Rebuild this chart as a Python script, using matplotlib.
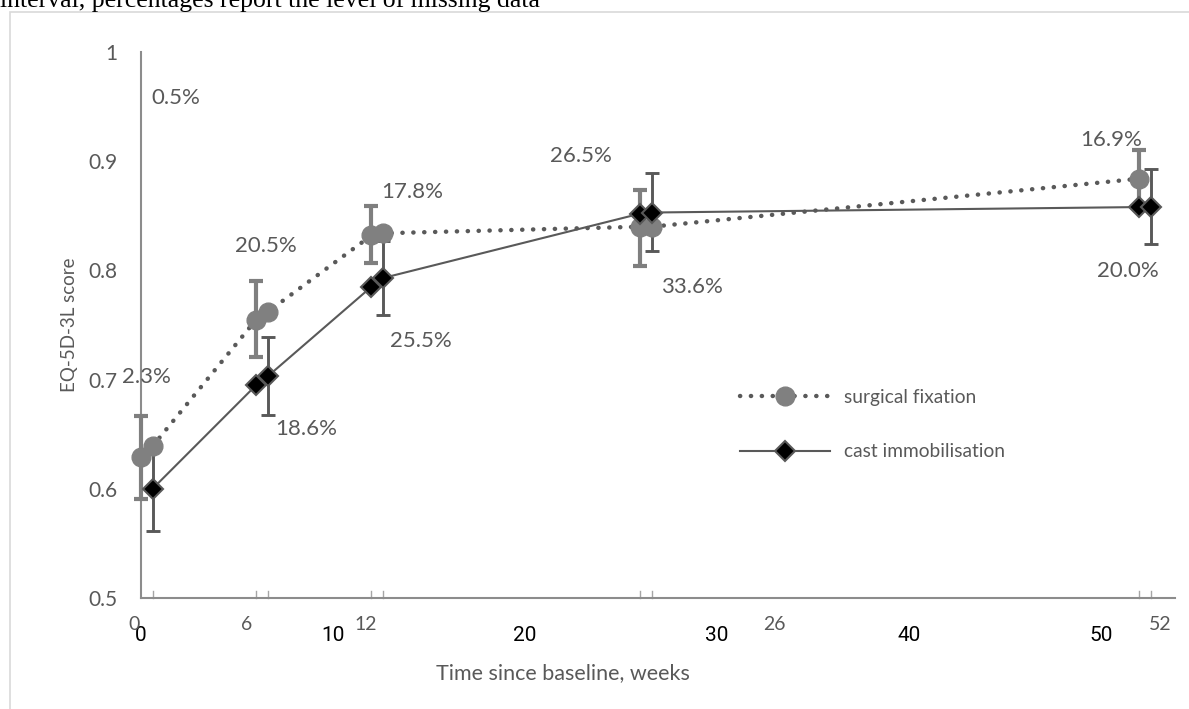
import numpy as np
import matplotlib
matplotlib.use("Agg")
import matplotlib.pyplot as plt
from matplotlib.patches import Rectangle
from matplotlib.lines import Line2D

# ---------------- data ----------------
weeks = [0, 6, 12, 26, 52]
offset = 0.6  # second (shifted) copy of each series

surg_a = [0.629, 0.755, 0.832, 0.840, 0.884]
surg_b = [0.639, 0.762, 0.834, 0.840, np.nan]
surg_lo = [0.591, 0.721, 0.807, 0.804, 0.858]
surg_hi = [0.667, 0.790, 0.859, 0.874, 0.910]

cast_a = [np.nan, 0.695, 0.785, 0.852, 0.858]
cast_b = [0.600, 0.703, 0.793, 0.853, 0.858]
cast_lo = [0.561, 0.668, 0.759, 0.818, 0.824]
cast_hi = [0.639, 0.739, 0.827, 0.889, 0.893]

missing_labels = ["0.5%", "2.3%", "20.5%", "18.6%", "17.8%", "25.5%",
                  "26.5%", "33.6%", "16.9%", "20.0%"]
missing_xy = [(1.8, 0.958), (0.3, 0.702), (6.5, 0.822), (8.6, 0.655),
              (14.1, 0.872), (14.6, 0.735), (22.9, 0.905), (28.7, 0.785),
              (50.5, 0.919), (51.4, 0.799)]

cat_labels = ["0", "6", "12", "26", "52"]
cat_label_x = [-0.35, 5.5, 11.7, 33.0, 53.1]

y_ticks = [0.5, 0.6, 0.7, 0.8, 0.9, 1.0]
y_ticklabels = ["0.5", "0.6", "0.7", "0.8", "0.9", "1"]
x_ticks = [0, 10, 20, 30, 40, 50]

# ---------------- figure ----------------
W, H = 1189, 709
fig = plt.figure(figsize=(W / 100, H / 100), dpi=100)
FONT = ["Lato", "DejaVu Sans"]
NARROW = ["Liberation Sans Narrow", "DejaVu Sans Condensed", "Roboto", "DejaVu Sans"]
TXT = "#595959"

# chart area border and clipped caption above
fig.patches.append(Rectangle((10 / W, -0.05), 1.2, 1 - 12 / H + 0.05,
                             transform=fig.transFigure, fill=False,
                             edgecolor="#d9d9d9", lw=1.2))
fig.text(0.0, 1 - 7 / H, "interval, percentages report the level of missing data",
         family=["Liberation Serif", "DejaVu Serif"], fontsize=18.5,
         va="baseline", ha="left", color="black")

ax = fig.add_axes([141 / W, (H - 598) / H, (1175 - 141) / W, (598 - 52) / H])
ax.set_xlim(0, 53.85)
ax.set_ylim(0.5, 1.0)
for s in ["top", "right"]:
    ax.spines[s].set_visible(False)
for s in ["left", "bottom"]:
    ax.spines[s].set_color("#8c8c8c")
    ax.spines[s].set_linewidth(1.5)

xa = np.array(weeks, dtype=float)
xb = xa + offset


def interleave(a, b):
    out = []
    for u, v in zip(a, b):
        out += [u, v]
    return np.array(out, dtype=float)


sx = interleave(xa, xb)
sy = interleave(surg_a, surg_b)
cx = interleave(xa, xb)
cy = interleave(cast_a, cast_b)
ms_ = ~np.isnan(sy)
mc_ = ~np.isnan(cy)

DOT = (0, (0.05, 2.4))
# lines
ax.plot(sx[ms_][1:], sy[ms_][1:], color="#595959", lw=3.2, linestyle=DOT,
        dash_capstyle="round", zorder=2)
ax.plot(cx[mc_], cy[mc_], color="#595959", lw=1.5, zorder=2)

# error bars
sa = np.array(surg_a)
cb = np.array(cast_b)
ax.errorbar(xa, sa, yerr=[sa - np.array(surg_lo), np.array(surg_hi) - sa],
            fmt="none", ecolor="#7f7f7f", elinewidth=3.0, capsize=4.7,
            capthick=3.0, zorder=3, clip_on=False)
ax.errorbar(xb, cb, yerr=[cb - np.array(cast_lo), np.array(cast_hi) - cb],
            fmt="none", ecolor="#595959", elinewidth=2.1, capsize=5,
            capthick=2.1, zorder=3, clip_on=False)

# markers
ax.plot(xa, surg_a, "o", ms=13.5, color="#808080", mec="#808080", zorder=4, clip_on=False)
ax.plot(xb, surg_b, "o", ms=13.5, color="#808080", mec="#808080", zorder=4, clip_on=False)
ax.plot(xa, cast_a, "D", ms=10, color="black", mec="#595959", mew=1.5, zorder=5, clip_on=False)
ax.plot(xb, cast_b, "D", ms=10, color="black", mec="#595959", mew=1.5, zorder=5, clip_on=False)

# small tick marks at the category positions
for xv in list(xa[1:]) + list(xb):
    ax.plot([xv, xv], [0.5, 0.506], color="#a6a6a6", lw=1, zorder=1, clip_on=False)

# axis ticks
ax.set_yticks(y_ticks)
ax.set_yticklabels(y_ticklabels)
ax.tick_params(axis="y", length=0, pad=17, labelsize=15, labelcolor=TXT)
for lab in ax.get_yticklabels():
    lab.set_family(FONT)
ax.set_xticks(x_ticks)
ax.set_xticklabels([str(v) for v in x_ticks], family=NARROW, stretch="condensed")
ax.tick_params(axis="x", length=0, pad=20, labelsize=15, labelcolor="black")

for lab, xv in zip(cat_labels, cat_label_x):
    ax.text(xv, 0.5 - 27 / 1096, lab, ha="center", va="center",
            fontsize=14, color=TXT, family=FONT)

ax.set_xlabel("Time since baseline, weeks", fontsize=15.5, color=TXT, family=FONT)
ax.xaxis.set_label_coords((563 - 141) / 1034, -(673 - 598) / 546)
ax.xaxis.label.set_va("center")
ax.set_ylabel("EQ-5D-3L score", fontsize=13.5, color=TXT, family=FONT)
ax.yaxis.set_label_coords((70 - 141) / 1034, (598 - 325) / 546)
ax.yaxis.label.set_va("center")

for lab, (xv, yv) in zip(missing_labels, missing_xy):
    ax.text(xv, yv, lab, ha="center", va="center", fontsize=16, color=TXT, family=FONT)

# legend
h1 = Line2D([], [], color="#595959", lw=3.2, linestyle=DOT,
            dash_capstyle="round", marker="o", ms=13.5, mfc="#808080", mec="#808080")
h2 = Line2D([], [], color="#595959", lw=1.5, marker="D", ms=10, mfc="black",
            mec="#595959", mew=1.5)
leg = ax.legend([h1, h2], ["surgical fixation", "cast immobilisation"],
                loc="upper left", bbox_to_anchor=((740 - 141) / 1034, (598 - 389) / 546),
                frameon=False, handlelength=4.7, labelspacing=1.95,
                prop={"family": FONT, "size": 13.8}, labelcolor=TXT,
                handletextpad=0.75, borderpad=0, borderaxespad=0)

fig.savefig("out.png", dpi=100)
